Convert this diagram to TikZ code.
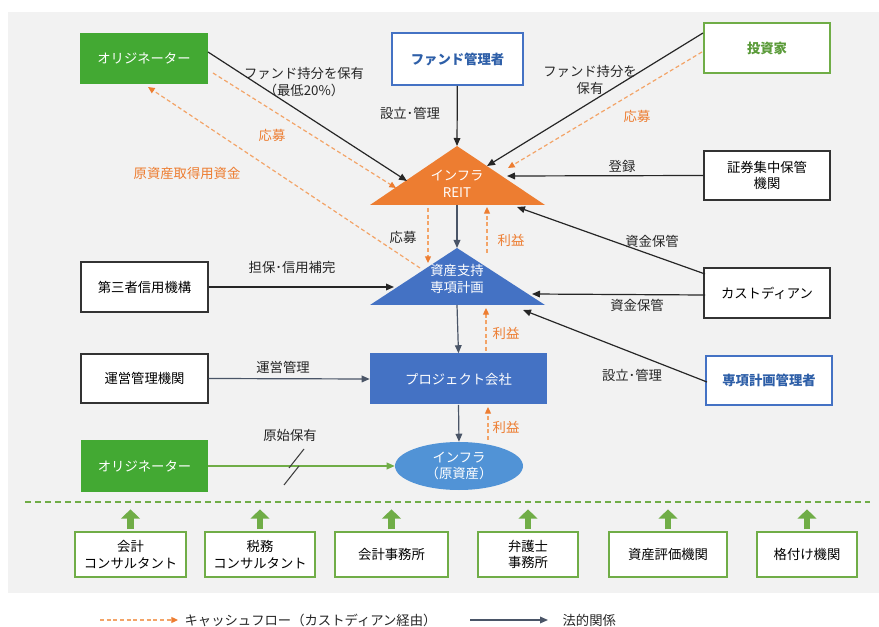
\documentclass[tikz,border=0pt]{standalone}
\usepackage{fontspec}
\setmainfont{Noto Sans CJK JP}
\usetikzlibrary{arrows.meta,shapes.geometric}
\definecolor{bgc}{HTML}{F2F2F2}
\definecolor{orgc}{HTML}{ED7D31}
\definecolor{cashc}{HTML}{F3A468}
\definecolor{bluec}{HTML}{4472C4}
\definecolor{ellc}{HTML}{5193D6}
\definecolor{greenc}{HTML}{43A933}
\definecolor{lgreen}{HTML}{70AD47}
\definecolor{ink}{HTML}{4A5567}
\definecolor{btext}{HTML}{2E5FA8}
\definecolor{gtext}{HTML}{5B9B3A}
\begin{document}
\begin{tikzpicture}[x=0.75pt,y=-0.75pt,font=\fontsize{10}{12.5}\selectfont,
  box/.style 2 args={draw=black!80,line width=0.9pt,fill=white,minimum width=#1*0.75pt,minimum height=#2*0.75pt,inner sep=1pt,align=center,text=black},
  gbox/.style 2 args={fill=greenc,minimum width=#1*0.75pt,minimum height=#2*0.75pt,inner sep=1pt,align=center,text=white},
  bbox/.style 2 args={box={#1}{#2},draw=bluec,line width=1.4pt,text=btext,font=\fontsize{10}{12.5}\selectfont\bfseries},
  lbox/.style 2 args={box={#1}{#2},draw=lgreen,line width=1pt},
  blk/.style={draw=black!85,line width=0.9pt,-{Triangle[length=6pt,width=5pt]}},
  legal/.style={draw=ink,line width=0.9pt,-{Triangle[length=6pt,width=5pt]}},
  cash/.style={draw=cashc,line width=0.9pt,dash pattern=on 3pt off 2pt,-{Triangle[length=5pt,width=4.5pt,color=orgc]}},
  lab/.style={inner sep=1pt,align=center,text=black!85},
  olab/.style={inner sep=1pt,align=center,text=orgc},
  up/.style={draw=lgreen,line width=5pt,-{Triangle[length=7pt,width=14pt]}}]
\useasboundingbox (0,0) rectangle (879,627);
\fill[bgc] (8,12) rectangle (879,593);

% triangles
\fill[orgc] (457,146) -- (545,205) -- (370,205) -- cycle;
\node[text=white,align=center,inner sep=0] (reit) at (457,184) {インフラ\\REIT};
\fill[bluec] (457,248) -- (545,305) -- (370,305) -- cycle;
\node[text=white,align=center,inner sep=0] (spv) at (457,279) {資産支持\\専項計画};

% triangle attachment points
\coordinate (rA1) at (407,181);
\coordinate (rA2) at (396,188);
\coordinate (rTop) at (457,146);
\coordinate (rR1) at (487,166);
\coordinate (rR2) at (508,168);
\coordinate (rR3) at (507,176);
\coordinate (rR4) at (517,207);
\coordinate (rB) at (457,205);
\coordinate (rBo1) at (428,208);
\coordinate (rBo2) at (487,207);
\coordinate (sTop) at (457,248);
\coordinate (sTo1) at (428,263);
\coordinate (sL) at (394,287);
\coordinate (sR1) at (532,294);
\coordinate (sR2) at (523,310);
\coordinate (sB) at (457,305);
\coordinate (sO) at (420,268);
\coordinate (sUp1) at (487,253);
\coordinate (sUp2) at (486,308);

% nodes
\node[gbox={128}{51}] (origA) at (144,58.5) {オリジネーター};
\node[bbox={131}{52}] (fundmgr) at (457.5,59) {ファンド管理者};
\node[lbox={126}{50},draw=lgreen,line width=1.4pt,text=gtext,font=\fontsize{10}{12.5}\selectfont\bfseries] (inv) at (767,48) {投資家};
\node[box={126}{49}] (csd) at (767,175.5) {証券集中保管\\機関};
\node[box={127}{50}] (third) at (144.5,287) {第三者信用機構};
\node[box={126}{50}] (cust) at (767,293) {カストディアン};
\node[box={127}{49}] (ops) at (144.5,378.5) {運営管理機関};
\node[bbox={126}{49}] (spvmgr) at (769,380.5) {専項計画管理者};
\node[fill=bluec,text=white,minimum width=177*0.75pt,minimum height=51*0.75pt,inner sep=0] (proj) at (458.5,379) {プロジェクト会社};
\node[ellipse,fill=ellc,text=white,minimum width=128*0.75pt,minimum height=48*0.75pt,inner sep=0,align=center] (asset) at (459,466) {インフラ\\（原資産）};
\node[gbox={127}{51}] (origB) at (144.5,466) {オリジネーター};

% bottom boxes
\node[lbox={111}{45}] (b1) at (130.5,554.5) {会計\\コンサルタント};
\node[lbox={110}{45}] (b2) at (260,554.5) {税務\\コンサルタント};
\node[lbox={113}{45}] (b3) at (391.5,554.5) {会計事務所};
\node[lbox={100}{45}] (b4) at (528,554.5) {弁護士\\事務所};
\node[lbox={118}{45}] (b5) at (668,554.5) {資産評価機関};
\node[lbox={100}{45}] (b6) at (807,554.5) {格付け機関};
\foreach \b in {b1,b2,b3,b4,b5,b6}
  \draw[up] ([yshift=1.5pt]\b.north) -- ++(0,-20);
\draw[lgreen,line width=1.4pt,dash pattern=on 4.5pt off 3pt] (25,502) -- (870,502);

% connectors
\coordinate (oA1) at (208,52);
\coordinate (oA2) at (213,73);
\coordinate (oA3) at (148,87);
\draw[blk] (oA1) -- (rA1);
\draw[cash] (oA2) -- (rA2);
\draw[cash] (sO) -- (oA3);
\draw[blk] (fundmgr) -- (rTop);
\coordinate (iv1) at (703,33);
\coordinate (iv2) at (702,52);
\draw[blk] (iv1) -- (rR1);
\draw[cash] (iv2) -- (rR2);
\draw[blk] (csd.west) -- (rR3);
\coordinate (cu1) at (705,274);
\coordinate (cu2) at (705,295);
\draw[blk] (cu1) -- (rR4);
\draw[blk] (cu2) -- (sR1);
\coordinate (sm1) at (707,382);
\draw[blk] (sm1) -- (sR2);
\draw[blk] (third.east) -- (sL);
\draw[legal] (rB) -- (sTop);
\draw[cash] (rBo1) -- (sTo1);
\draw[cash] (sUp1) -- (rBo2);
\draw[legal] (sB) -- (proj.north);
\coordinate (pUp1) at (486,351);
\draw[cash] (pUp1) -- (sUp2);
\draw[legal] (ops.east) -- (proj.west);
\draw[legal] (proj.south) -- (asset.north);
\coordinate (aUp) at (488,440);
\coordinate (pUp2) at (488,407);
\draw[cash] (aUp) -- (pUp2);
\draw[draw=lgreen,line width=0.9pt,-{Triangle[length=6pt,width=5pt]}] (origB.east) -- (asset.west);
\draw[draw=black!75,line width=0.8pt] (289,468) -- (304,449);
\draw[draw=black!75,line width=0.8pt] (284,485) -- (299,466);

% labels
\node[lab] (l1) at (304,82) {ファンド持分を保有\\（最低20\%）};
\node[lab] (l2) at (410,113) {設立･管理};
\node[olab] (l3) at (272,135) {応募};
\node[olab] (l4) at (187,173) {原資産取得用資金};
\node[lab] (l5) at (590,80) {ファンド持分を\\保有};
\node[olab] (l6) at (637,116) {応募};
\node[lab] (l7) at (622,166) {登録};
\node[lab] (l8) at (652,241) {資金保管};
\node[lab] (l9) at (637,305) {資金保管};
\node[lab] (l10) at (632,375) {設立･管理};
\node[lab] (l11) at (292,267) {担保･信用補完};
\node[lab] (l12) at (283,367) {運営管理};
\node[lab] (l13) at (290,435) {原始保有};
\node[lab] (l14) at (403,237) {応募};
\node[olab] (l15) at (511,240) {利益};
\node[olab] (l16) at (506,333) {利益};
\node[olab] (l17) at (506,427) {利益};

% legend
\coordinate (lg1) at (100,620);
\coordinate (lg2) at (178,620);
\draw[cash] (lg1) -- (lg2);
\node[lab,anchor=west] (lg3) at (183,620) {キャッシュフロー（カストディアン経由）};
\coordinate (lg4) at (470,620);
\coordinate (lg5) at (548,620);
\draw[legal] (lg4) -- (lg5);
\node[lab,anchor=west] (lg6) at (561,620) {法的関係};
\end{tikzpicture}
\end{document}
